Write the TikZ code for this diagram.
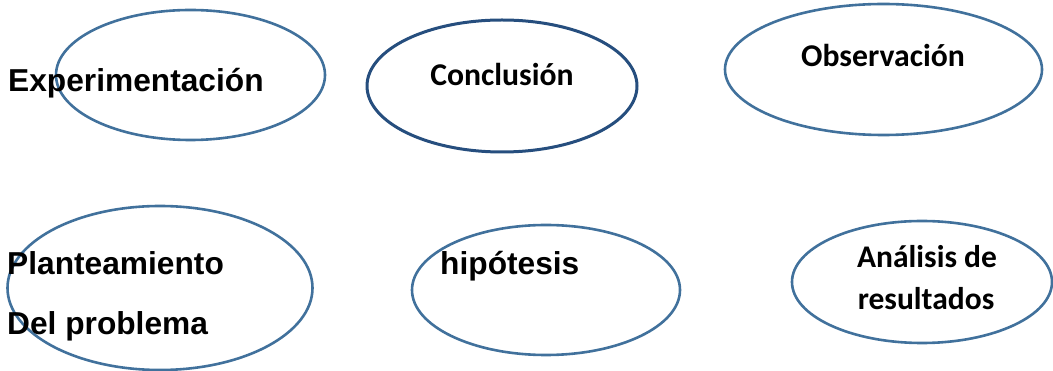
\documentclass[tikz,border=0pt]{standalone}
\usepackage{fontspec}
\setmainfont{Liberation Sans}
\newfontfamily\calib{Carlito}
\usetikzlibrary{shapes.geometric}
\definecolor{ellblue}{RGB}{65,113,156}
\definecolor{darkblue}{RGB}{38,78,126}
\tikzset{
  oval/.style={ellipse, draw=ellblue, line width=2.6pt, inner sep=0pt},
  darkoval/.style={oval, draw=darkblue, line width=3pt},
  arialtxt/.style={inner sep=0pt, anchor=base west, font=\fontsize{31.7}{38}\selectfont\bfseries},
  calibtxt/.style={inner sep=0pt, anchor=base, font=\calib\fontsize{31.7}{38}\selectfont\bfseries},
  calibsmall/.style={inner sep=0pt, anchor=base, font=\calib\fontsize{31.5}{38}\selectfont\bfseries}
}
\begin{document}
\begin{tikzpicture}[x=1pt,y=-1pt]
\useasboundingbox (0,0) rectangle (1053,371);
\node[oval, minimum width=269pt, minimum height=130pt] (e1) at (190.5,75) {};
\node[darkoval, minimum width=270pt, minimum height=132pt] (e2) at (502,86) {};
\node[oval, minimum width=317pt, minimum height=131pt] (e3) at (883.5,69.5) {};
\node[oval, minimum width=305pt, minimum height=164pt] (e4) at (160,288) {};
\node[oval, minimum width=268pt, minimum height=130pt] (e5) at (546,290) {};
\node[oval, minimum width=260pt, minimum height=122pt] (e6) at (922,282) {};
\node[arialtxt] (t1) at (8,92) {Experimentación};
\node[calibtxt] (t2) at (502,86) {Conclusión};
\node[calibtxt] (t3) at (883,67) {Observación};
\node[arialtxt] (t4a) at (7,275) {Planteamiento};
\node[arialtxt] (t4b) at (7,335) {Del problema};
\node[arialtxt] (t5) at (440,275) {hipótesis};
\node[calibsmall] (t6a) at (927,268) {Análisis de};
\node[calibsmall] (t6b) at (926,310) {resultados};
\end{tikzpicture}
\end{document}
